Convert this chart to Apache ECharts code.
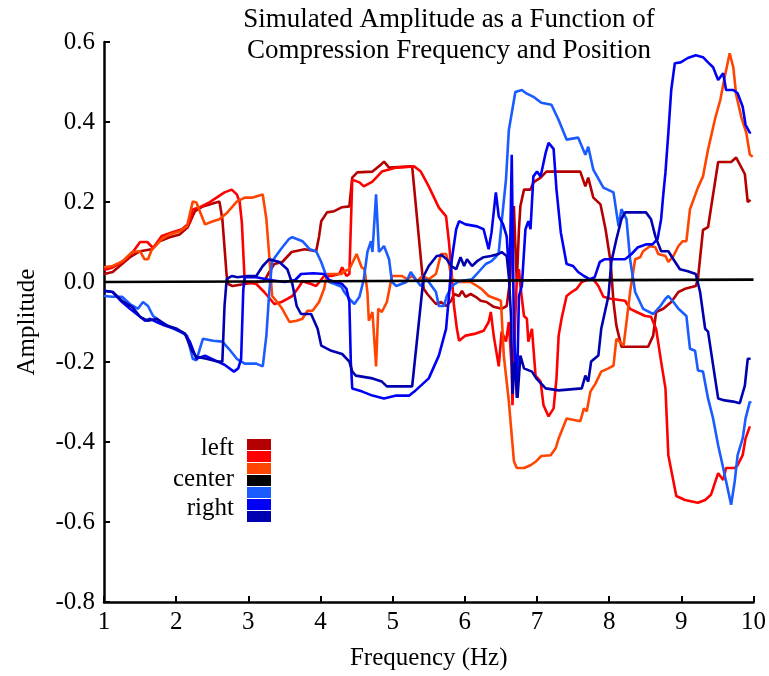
<!DOCTYPE html>
<html><head><meta charset="utf-8">
<script src="https://cdn.jsdelivr.net/npm/echarts@6/dist/echarts.min.js"></script>
<style>html,body{margin:0;padding:0;background:#fff}#c{width:769px;height:676px}</style>
</head><body><div id="c"></div>
<script>
const titleText = 'Simulated Amplitude as a Function of\nCompression Frequency and Position';
const xName = 'Frequency (Hz)';
const yName = 'Amplitude';
const legendLabels = ['left', 'center', 'right'];
const seriesNames = ['left 1', 'left 2', 'left 3', 'center', 'right 1', 'right 2', 'right 3'];
const seriesColors = ['#b40000', '#ff0000', '#ff4500', '#000000', '#1a5cff', '#0000f5', '#0000b0'];

const left1 = [[1.0,0.02],[1.12,0.025],[1.25,0.045],[1.36,0.062],[1.5,0.077],[1.66,0.082],[1.77,0.102],[1.91,0.112],[2.05,0.119],[2.16,0.137],[2.26,0.177],[2.37,0.189],[2.6,0.201],[2.64,0.157],[2.7,0.015],[2.72,-0.005],[2.78,-0.01],[2.95,-0.005],[3.13,0.0],[3.22,0.002],[3.29,0.025],[3.36,0.045],[3.47,0.05],[3.6,0.075],[3.78,0.082],[3.94,0.077],[3.98,0.114],[4.01,0.152],[4.09,0.174],[4.19,0.177],[4.3,0.187],[4.4,0.189],[4.44,0.261],[4.51,0.274],[4.72,0.276],[4.84,0.294],[4.88,0.301],[4.95,0.286],[5.27,0.289],[5.43,-0.017],[5.48,-0.03],[5.6,-0.055],[5.67,-0.05],[5.74,-0.06],[5.81,-0.047],[5.85,-0.03],[5.92,-0.035],[5.96,-0.022],[6.01,-0.037],[6.08,-0.03],[6.15,-0.037],[6.22,-0.047],[6.3,-0.05],[6.4,-0.062],[6.51,-0.067],[6.58,-0.06],[6.63,0.007],[6.65,0.132],[6.68,0.19],[6.7,0.09],[6.72,0.0],[6.75,0.132],[6.77,0.19],[6.82,0.231],[6.91,0.231],[6.95,0.249],[7.05,0.261],[7.13,0.276],[7.3,0.276],[7.6,0.276],[7.67,0.239],[7.71,0.261],[7.78,0.211],[7.88,0.194],[7.95,0.132],[8.02,0.05],[8.06,-0.05],[8.1,-0.109],[8.17,-0.162],[8.54,-0.162],[8.61,-0.134],[8.65,-0.075],[8.75,-0.067],[8.86,-0.05],[8.96,-0.025],[9.05,-0.017],[9.2,-0.01],[9.23,0.007],[9.3,0.13],[9.37,0.137],[9.51,0.3],[9.69,0.3],[9.76,0.311],[9.88,0.27],[9.92,0.2],[9.96,0.205]];

const left2 = [[1.0,0.03],[1.1,0.035],[1.25,0.05],[1.4,0.075],[1.5,0.1],[1.6,0.1],[1.68,0.085],[1.8,0.115],[1.94,0.124],[2.08,0.132],[2.19,0.149],[2.23,0.181],[2.33,0.187],[2.46,0.199],[2.56,0.211],[2.67,0.224],[2.77,0.231],[2.84,0.219],[2.88,0.2],[2.91,0.149],[2.95,0.0],[3.11,-0.005],[3.22,-0.025],[3.36,-0.055],[3.46,-0.05],[3.54,-0.042],[3.61,-0.035],[3.71,-0.01],[3.75,0.002],[3.87,-0.005],[3.94,-0.01],[4.05,0.015],[4.15,0.015],[4.26,0.02],[4.3,0.037],[4.36,0.015],[4.4,0.02],[4.44,0.256],[4.54,0.249],[4.6,0.239],[4.72,0.251],[4.85,0.276],[4.95,0.281],[5.05,0.286],[5.3,0.289],[5.39,0.276],[5.5,0.239],[5.64,0.186],[5.74,0.164],[5.78,0.1],[5.82,0.015],[5.85,-0.06],[5.89,-0.117],[5.92,-0.147],[6.01,-0.134],[6.15,-0.129],[6.26,-0.122],[6.33,-0.1],[6.36,-0.075],[6.4,-0.134],[6.47,-0.211],[6.51,-0.124],[6.57,-0.149],[6.61,-0.1],[6.65,-0.216],[6.66,-0.308],[6.7,-0.085],[6.72,0.007],[6.75,0.032],[6.77,-0.01],[6.82,-0.085],[6.86,-0.092],[6.88,-0.149],[6.93,-0.117],[6.98,-0.234],[7.05,-0.249],[7.09,-0.308],[7.16,-0.336],[7.23,-0.316],[7.27,-0.241],[7.3,-0.134],[7.34,-0.092],[7.41,-0.035],[7.48,-0.025],[7.55,-0.017],[7.62,0.0],[7.71,0.007],[7.78,0.007],[7.85,-0.01],[7.92,-0.037],[8.02,-0.042],[8.22,-0.047],[8.29,-0.067],[8.38,-0.075],[8.5,-0.085],[8.58,-0.087],[8.65,-0.117],[8.72,-0.199],[8.78,-0.266],[8.82,-0.433],[8.93,-0.535],[9.05,-0.545],[9.23,-0.552],[9.33,-0.545],[9.41,-0.532],[9.51,-0.478],[9.58,-0.495],[9.62,-0.465],[9.74,-0.465],[9.78,-0.458],[9.85,-0.433],[9.89,-0.391],[9.95,-0.361]];

const left3 = [[1.0,0.037],[1.12,0.04],[1.26,0.052],[1.39,0.075],[1.5,0.077],[1.56,0.057],[1.61,0.057],[1.66,0.08],[1.8,0.107],[1.91,0.119],[2.05,0.127],[2.15,0.139],[2.23,0.201],[2.28,0.199],[2.4,0.144],[2.51,0.152],[2.6,0.157],[2.71,0.174],[2.84,0.201],[2.95,0.211],[3.06,0.211],[3.2,0.219],[3.25,0.157],[3.29,0.065],[3.33,-0.035],[3.4,-0.05],[3.47,-0.067],[3.57,-0.1],[3.67,-0.097],[3.75,-0.092],[3.82,-0.072],[3.89,-0.072],[3.98,-0.05],[4.05,-0.017],[4.09,0.02],[4.19,0.02],[4.29,0.02],[4.33,0.027],[4.4,0.032],[4.5,0.07],[4.57,0.037],[4.61,0.032],[4.65,-0.025],[4.67,-0.097],[4.72,-0.075],[4.77,-0.211],[4.8,-0.067],[4.85,-0.075],[4.92,-0.05],[4.99,0.015],[5.13,0.015],[5.2,0.007],[5.27,0.015],[5.34,0.002],[5.41,0.015],[5.5,0.007],[5.6,0.02],[5.67,0.07],[5.74,0.07],[5.78,0.045],[5.82,0.007],[5.92,0.0],[6.08,0.0],[6.17,-0.01],[6.23,-0.017],[6.33,-0.035],[6.43,-0.042],[6.5,-0.047],[6.54,-0.184],[6.61,-0.299],[6.68,-0.448],[6.72,-0.465],[6.82,-0.465],[6.91,-0.458],[6.99,-0.448],[7.06,-0.435],[7.19,-0.433],[7.26,-0.415],[7.3,-0.391],[7.41,-0.341],[7.6,-0.348],[7.65,-0.316],[7.69,-0.323],[7.74,-0.274],[7.81,-0.254],[7.89,-0.224],[7.99,-0.216],[8.06,-0.209],[8.1,-0.142],[8.2,-0.159],[8.24,-0.1],[8.29,-0.025],[8.36,0.057],[8.43,0.062],[8.47,0.077],[8.57,0.09],[8.64,0.087],[8.68,0.07],[8.78,0.065],[8.82,0.05],[8.89,0.065],[8.96,0.09],[9.02,0.102],[9.07,0.102],[9.12,0.182],[9.23,0.236],[9.3,0.264],[9.37,0.331],[9.47,0.41],[9.54,0.455],[9.6,0.512],[9.67,0.572],[9.72,0.537],[9.76,0.468],[9.83,0.413],[9.9,0.373],[9.95,0.318],[9.99,0.313]];

const center = [[1.0,0.0],[4.0,0.002],[7.0,0.004],[10.0,0.006]];

const right1 = [[1.0,-0.035],[1.12,-0.037],[1.25,-0.037],[1.36,-0.055],[1.47,-0.067],[1.54,-0.05],[1.61,-0.06],[1.68,-0.085],[1.8,-0.1],[1.91,-0.112],[2.05,-0.124],[2.15,-0.134],[2.23,-0.192],[2.28,-0.196],[2.37,-0.142],[2.51,-0.147],[2.64,-0.149],[2.73,-0.167],[2.84,-0.192],[2.95,-0.204],[3.11,-0.204],[3.2,-0.211],[3.25,-0.134],[3.29,-0.025],[3.33,0.052],[3.45,0.082],[3.56,0.107],[3.61,0.112],[3.75,0.102],[3.85,0.082],[3.94,0.077],[4.01,0.05],[4.07,0.02],[4.12,0.0],[4.2,-0.005],[4.29,-0.012],[4.33,-0.025],[4.4,-0.042],[4.47,-0.055],[4.54,-0.037],[4.6,0.007],[4.65,0.075],[4.7,0.102],[4.72,0.075],[4.77,0.219],[4.81,0.075],[4.88,0.09],[4.95,0.057],[4.99,0.0],[5.05,-0.01],[5.19,0.0],[5.25,0.025],[5.32,0.007],[5.39,-0.01],[5.46,0.007],[5.5,0.0],[5.6,-0.025],[5.64,-0.06],[5.71,-0.06],[5.75,-0.035],[5.82,-0.01],[5.92,0.002],[6.1,0.007],[6.19,0.025],[6.29,0.045],[6.37,0.052],[6.44,0.065],[6.47,0.075],[6.51,0.149],[6.57,0.256],[6.61,0.38],[6.7,0.475],[6.79,0.48],[6.84,0.473],[6.95,0.463],[7.06,0.448],[7.2,0.443],[7.3,0.405],[7.41,0.356],[7.57,0.361],[7.67,0.318],[7.71,0.338],[7.78,0.281],[7.92,0.236],[8.06,0.224],[8.13,0.139],[8.17,0.182],[8.24,0.157],[8.29,0.057],[8.36,-0.025],[8.47,-0.067],[8.61,-0.08],[8.71,-0.06],[8.78,-0.042],[8.82,-0.035],[8.89,-0.05],[8.96,-0.067],[9.07,-0.085],[9.12,-0.167],[9.19,-0.172],[9.23,-0.221],[9.3,-0.224],[9.37,-0.291],[9.44,-0.341],[9.51,-0.408],[9.58,-0.465],[9.62,-0.498],[9.69,-0.557],[9.74,-0.498],[9.78,-0.433],[9.85,-0.391],[9.89,-0.341],[9.95,-0.299],[9.96,-0.303]];

const right2 = [[1.0,-0.022],[1.12,-0.025],[1.25,-0.05],[1.36,-0.067],[1.5,-0.087],[1.57,-0.097],[1.64,-0.092],[1.73,-0.1],[1.84,-0.109],[1.98,-0.117],[2.12,-0.129],[2.19,-0.149],[2.28,-0.192],[2.4,-0.184],[2.54,-0.196],[2.67,-0.207],[2.8,-0.224],[2.86,-0.216],[2.9,-0.192],[2.93,-0.02],[2.95,0.012],[3.11,0.012],[3.3,0.005],[3.5,0.0],[3.65,0.005],[3.73,0.02],[3.9,0.022],[4.05,0.02],[4.12,0.005],[4.2,0.0],[4.3,-0.005],[4.36,-0.017],[4.4,-0.05],[4.42,-0.2],[4.44,-0.266],[4.58,-0.274],[4.72,-0.284],[4.88,-0.291],[5.05,-0.284],[5.23,-0.284],[5.3,-0.274],[5.39,-0.259],[5.5,-0.241],[5.64,-0.184],[5.74,-0.117],[5.78,-0.035],[5.82,0.057],[5.88,0.132],[5.92,0.152],[6.01,0.144],[6.17,0.139],[6.26,0.132],[6.33,0.082],[6.37,0.124],[6.43,0.224],[6.47,0.164],[6.53,0.144],[6.58,0.114],[6.62,0.0],[6.65,0.318],[6.68,-0.117],[6.72,-0.29],[6.75,-0.035],[6.79,-0.01],[6.84,0.132],[6.88,0.152],[6.91,0.132],[6.95,0.264],[7.0,0.276],[7.05,0.264],[7.12,0.323],[7.16,0.348],[7.23,0.333],[7.27,0.231],[7.33,0.124],[7.41,0.045],[7.5,0.04],[7.57,0.025],[7.65,0.015],[7.73,0.007],[7.8,0.012],[7.87,0.05],[7.94,0.057],[8.22,0.057],[8.31,0.07],[8.4,0.087],[8.51,0.094],[8.6,0.094],[8.67,0.107],[8.72,0.157],[8.75,0.219],[8.78,0.274],[8.82,0.373],[8.86,0.48],[8.91,0.547],[8.99,0.549],[9.09,0.56],[9.2,0.567],[9.3,0.562],[9.37,0.549],[9.44,0.537],[9.51,0.505],[9.58,0.522],[9.62,0.48],[9.72,0.48],[9.78,0.472],[9.85,0.438],[9.89,0.393],[9.95,0.373],[9.96,0.375]];

const right3 = [[1.0,-0.022],[1.12,-0.025],[1.25,-0.047],[1.39,-0.062],[1.5,-0.087],[1.61,-0.097],[1.73,-0.092],[1.87,-0.109],[2.01,-0.117],[2.12,-0.129],[2.22,-0.172],[2.28,-0.187],[2.42,-0.192],[2.57,-0.199],[2.64,-0.199],[2.67,-0.06],[2.7,0.007],[2.77,0.015],[2.85,0.012],[2.98,0.015],[3.11,0.015],[3.2,0.04],[3.29,0.057],[3.43,0.05],[3.54,0.032],[3.61,-0.005],[3.67,-0.06],[3.73,-0.08],[3.87,-0.08],[3.96,-0.117],[4.01,-0.159],[4.15,-0.172],[4.3,-0.18],[4.4,-0.199],[4.44,-0.224],[4.49,-0.234],[4.72,-0.241],[4.85,-0.249],[4.92,-0.261],[5.27,-0.261],[5.43,0.015],[5.5,0.04],[5.61,0.065],[5.68,0.067],[5.75,0.057],[5.81,0.04],[5.88,0.032],[5.94,0.062],[5.99,0.04],[6.03,0.057],[6.1,0.04],[6.17,0.052],[6.26,0.062],[6.36,0.065],[6.47,0.07],[6.51,0.075],[6.58,0.065],[6.61,0.015],[6.64,-0.085],[6.66,-0.28],[6.69,-0.2],[6.73,-0.29],[6.77,-0.184],[6.82,-0.216],[6.93,-0.224],[6.99,-0.241],[7.12,-0.266],[7.3,-0.271],[7.62,-0.266],[7.67,-0.234],[7.71,-0.249],[7.75,-0.199],[7.85,-0.184],[7.89,-0.117],[7.99,-0.035],[8.03,0.05],[8.1,0.107],[8.17,0.157],[8.22,0.174],[8.51,0.174],[8.58,0.157],[8.64,0.114],[8.72,0.077],[8.82,0.077],[8.89,0.057],[8.98,0.032],[9.09,0.027],[9.2,0.02],[9.26,-0.025],[9.33,-0.117],[9.37,-0.124],[9.51,-0.291],[9.6,-0.296],[9.72,-0.299],[9.81,-0.303],[9.88,-0.259],[9.92,-0.192],[9.96,-0.192]];

const seriesData = [left1, left2, left3, center, right1, right2, right3];
const FONT = "'Liberation Serif', 'Times New Roman', serif";

const chart = echarts.init(document.getElementById('c'), null, {renderer: 'canvas'});

const drawOrder = [0, 1, 2, 4, 5, 6, 3];
const series = drawOrder.map((i, k) => ({
  name: seriesNames[i],
  type: 'line',
  data: seriesData[i],
  showSymbol: false,
  symbol: 'none',
  smooth: false,
  z: 2 + k,
  lineStyle: {color: seriesColors[i], width: 2.6},
  itemStyle: {color: seriesColors[i]},
  emphasis: {disabled: true}
}));

// legend drawn as graphic swatches and labels
const swX = 247, swY = 439, swW = 24, swH = 11, swStep = 12;
const graphics = seriesColors.map((c, i) => ({
  type: 'rect',
  shape: {x: swX, y: swY + i * swStep, width: swW, height: swH},
  style: {fill: c}
}));
const labelY = [448, 479, 508];
legendLabels.forEach((t, i) => {
  graphics.push({
    type: 'text',
    style: {
      text: t, x: 234, y: labelY[i],
      textAlign: 'right', textVerticalAlign: 'middle',
      font: "25px " + FONT, fill: '#000'
    }
  });
});

chart.setOption({
  animation: false,
  backgroundColor: '#fff',
  title: {
    text: titleText,
    left: 444, top: -1, textAlign: 'center',
    textStyle: {fontFamily: FONT, fontSize: 27, fontWeight: 'normal', color: '#000', lineHeight: 31}
  },
  grid: {left: 104, right: 13, top: 42, bottom: 71},
  xAxis: {
    type: 'value', min: 1, max: 10, interval: 1,
    name: xName, nameLocation: 'middle', nameGap: 44,
    nameTextStyle: {fontFamily: FONT, fontSize: 25, color: '#000'},
    axisLine: {show: true, onZero: false, lineStyle: {color: '#000', width: 2.5}},
    axisTick: {show: true, inside: true, length: 6, lineStyle: {color: '#000', width: 2}},
    axisLabel: {fontFamily: FONT, fontSize: 25, color: '#000', margin: 8},
    splitLine: {show: false}
  },
  yAxis: {
    type: 'value', min: -0.8, max: 0.6, interval: 0.2,
    name: yName, nameLocation: 'middle', nameGap: 64, nameRotate: 90,
    nameTextStyle: {fontFamily: FONT, fontSize: 25, color: '#000'},
    axisLine: {show: true, onZero: false, lineStyle: {color: '#000', width: 2.5}},
    axisTick: {show: true, inside: true, length: 6, lineStyle: {color: '#000', width: 2}},
    axisLabel: {fontFamily: FONT, fontSize: 25, color: '#000', margin: 9,
      formatter: v => (Math.abs(v) < 1e-9 ? 0 : v).toFixed(1)},
    splitLine: {show: false}
  },
  graphic: graphics,
  series: series
});
</script>
</body></html>
